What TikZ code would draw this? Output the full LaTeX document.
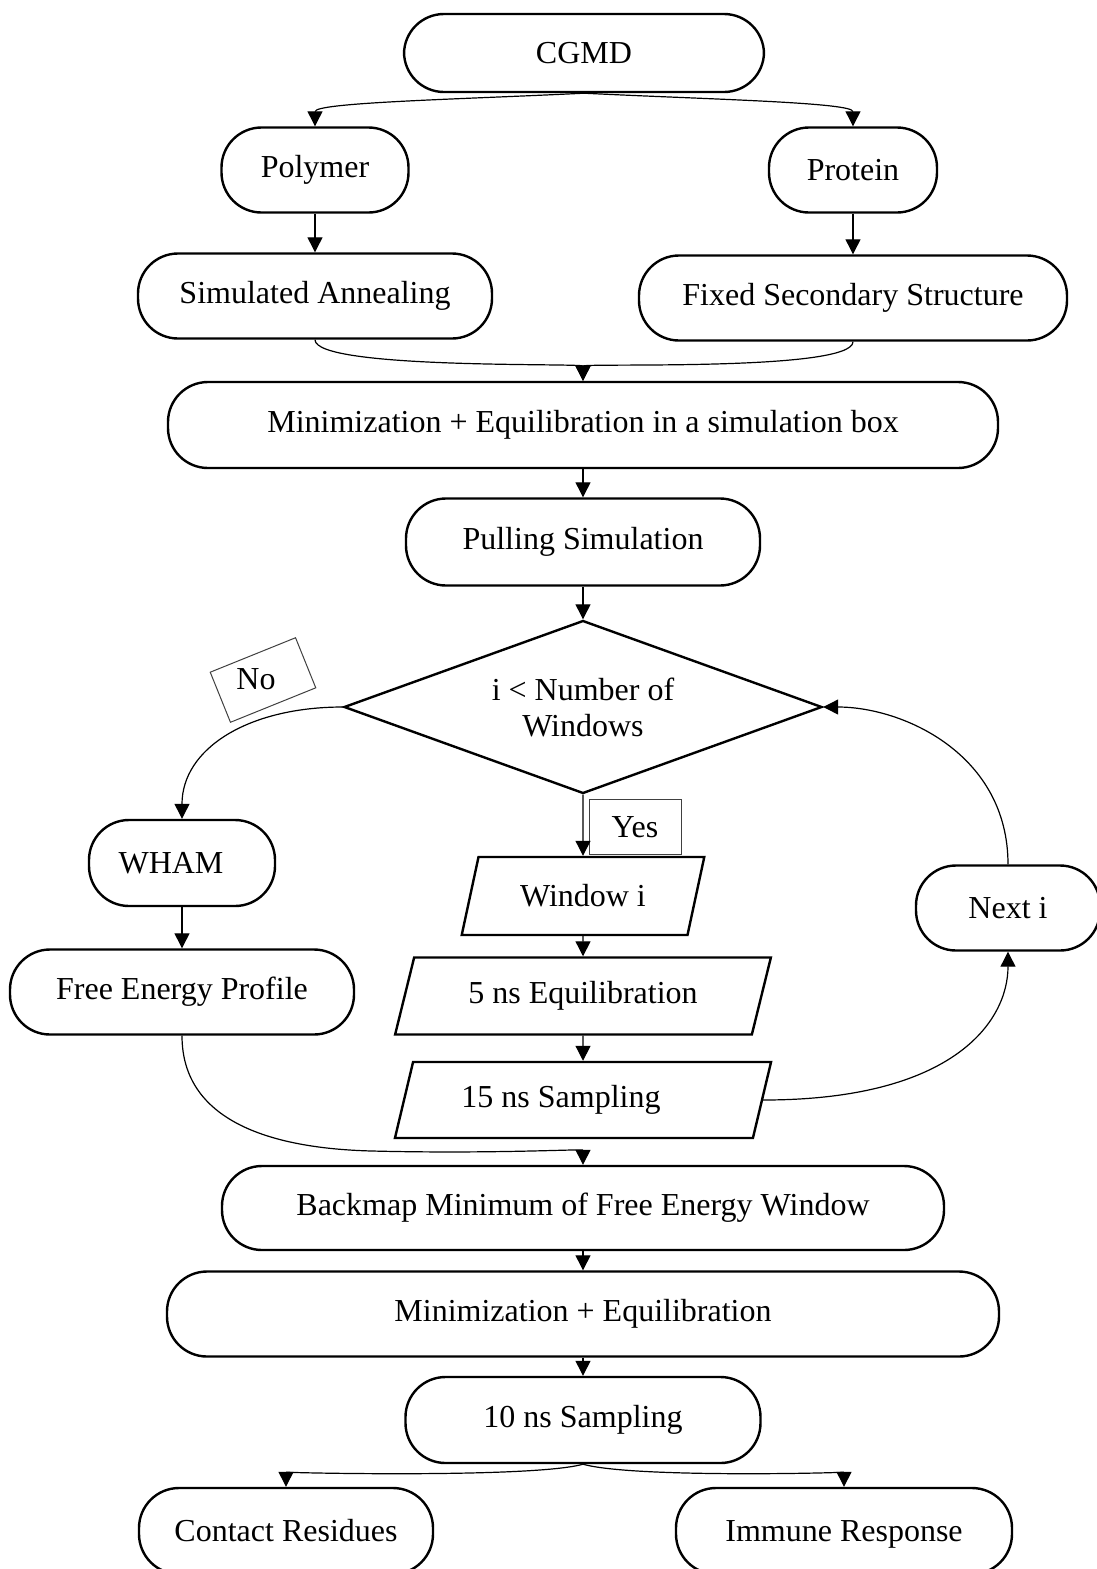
\documentclass[tikz,border=0pt]{standalone}
\usepackage{fontspec}
\setmainfont{Liberation Serif}
\usetikzlibrary{shapes.geometric, arrows.meta}

\begin{document}
\begin{tikzpicture}[x=1pt, y=-1pt, font=\fontsize{32}{36}\selectfont,
  term/.style = {draw, line width=2.4pt, rounded corners=40pt, minimum height=85pt, inner sep=0pt},
  io/.style = {draw, line width=2.4pt, trapezium, trapezium left angle=66, trapezium right angle=114, trapezium stretches=true, inner sep=0pt},
  tag/.style = {draw=black!75, line width=1pt, inner sep=0pt},
  arr/.style = {line width=1.2pt, -{Triangle[length=15pt, width=15pt]}}]
\useasboundingbox (0,0) rectangle (1097,1569);

\node[term, minimum width=360pt, minimum height=78pt] (cgmd) at (584,53) {CGMD};
\node[term, minimum width=187pt] (poly) at (315,170) {Polymer};
\node[term, minimum width=168pt] (prot) at (853,170) {Protein};
\node[term, minimum width=354pt] (sa) at (315,296) {Simulated Annealing};
\node[term, minimum width=428pt] (fixed) at (853,298) {Fixed Secondary Structure};
\node[term, minimum width=830pt, minimum height=86pt] (min1) at (583,425) {Minimization + Equilibration in a simulation box};
\node[term, minimum width=354pt, minimum height=87pt] (pull) at (583,542) {Pulling Simulation};
\node[draw, line width=2.4pt, diamond, aspect=2.76, inner sep=0pt, minimum width=478pt, minimum height=173pt, align=center] (dec) at (583,707) {i < Number of\\Windows};
\node[tag, rotate=22, minimum width=92pt, minimum height=54pt] (nobox) at (263,680) {};
\node (no) at (256,679) {No};
\node[tag, minimum width=92pt, minimum height=55pt] (yes) at (635,827) {Yes};
\node[term, minimum width=186pt, minimum height=86pt] (wham) at (182,863) {WHAM\hspace*{22pt}};
\node[term, minimum width=344pt] (fep) at (182,992) {Free Energy Profile};
\node[io, minimum width=243pt, minimum height=78pt] (win) at (583,896) {Window i};
\node[io, minimum width=377pt, minimum height=77pt] (eq) at (583,996) {5 ns Equilibration};
\node[io, minimum width=377pt, minimum height=76pt] (samp) at (583,1100) {15 ns Sampling\hspace*{44pt}};
\node[term, minimum width=184pt] (next) at (1008,908) {Next i};
\node[term, minimum width=722pt, minimum height=84pt] (back) at (583,1208) {Backmap Minimum of Free Energy Window};
\node[term, minimum width=832pt] (min2) at (583,1314) {Minimization + Equilibration};
\node[term, minimum width=355pt, minimum height=86pt] (ten) at (583,1420) {10 ns Sampling};
\node[term, minimum width=294pt, minimum height=86pt] (cont) at (286,1531) {Contact Residues};
\node[term, minimum width=336pt, minimum height=86pt, text depth=-6pt] (imm) at (844,1531) {Immune Response};

\draw[arr] (cgmd.south) .. controls +(-120,6) and +(0,-24) .. (poly.north);
\draw[arr] (cgmd.south) .. controls +(120,6) and +(0,-24) .. (prot.north);
\draw[arr] (poly.south) -- (sa.north);
\draw[arr] (prot.south) -- (fixed.north);
\draw[arr] (sa.south) .. controls +(0,30) and +(0,-18) .. (min1.north);
\draw[arr] (fixed.south) .. controls +(0,30) and +(0,-18) .. (min1.north);
\draw[arr] (min1.south) -- (pull.north);
\draw[arr] (pull.south) -- (dec.north);
\draw[arr] (dec.west) .. controls +(-95,0) and +(0,-70) .. (wham.north);
\draw[arr] (dec.south) -- (win.north);
\draw[arr] (win.south) -- (eq.north);
\draw[arr] (eq.south) -- (samp.north);
\draw[arr] (samp.east) .. controls +(190,0) and +(0,70) .. (next.south);
\draw[arr] (next.north) .. controls +(0,-110) and +(80,0) .. (dec.east);
\draw[arr] (wham.south) -- (fep.north);
\draw[arr] (fep.south) .. controls +(0,95) and +(-80,-2) .. (372,1151) .. controls +(120,3) and +(0,-16) .. (back.north);
\draw[arr] (back.south) -- (min2.north);
\draw[arr] (min2.south) -- (ten.north);
\draw[arr] (ten.south) .. controls +(-50,14) and +(0,-14) .. (cont.north);
\draw[arr] (ten.south) .. controls +(50,14) and +(0,-14) .. (imm.north);
\end{tikzpicture}
\end{document}
